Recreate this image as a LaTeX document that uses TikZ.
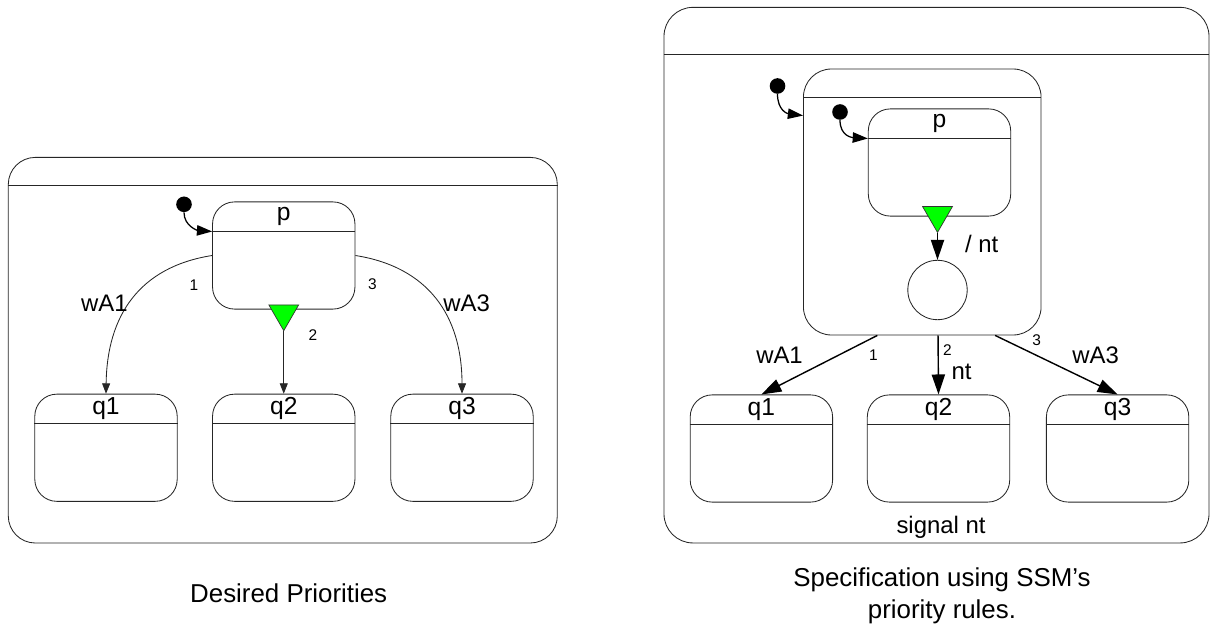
\documentclass[tikz,border=0pt]{standalone}
\usepackage{fontspec}
\setmainfont{Liberation Sans}
\usetikzlibrary{arrows.meta,positioning,calc,shapes.geometric}

\tikzset{
  frame/.style={draw=black!85, line width=0.6pt},
  state/.style={frame, rounded corners=5.5mm, inner sep=0pt,
    minimum width=35.6mm, minimum height=26.8mm},
  initdot/.style={circle, fill=black, inner sep=0pt, minimum size=3.9mm},
  choice/.style={regular polygon, regular polygon sides=3, shape border rotate=180,
    draw=black!80, line width=0.5pt, fill=green, inner sep=0pt, minimum size=8.6mm},
  thinarrow/.style={frame, -{Triangle[length=2.6mm,width=2mm]}},
  boldarrow/.style={draw=black, line width=1pt, -{Triangle[length=5mm,width=3.3mm]}},
  initarrow/.style={draw=black, line width=0.9pt, -{Triangle[length=3.8mm,width=2.6mm]}},
  stname/.style={font=\fontsize{17.5}{19}\selectfont, inner sep=0pt},
  lbl/.style={font=\fontsize{17}{19}\selectfont, inner sep=0pt},
  prio/.style={font=\fontsize{11}{13}\selectfont, inner sep=0pt},
  caption/.style={font=\fontsize{18.4}{22.8}\selectfont, inner sep=0pt, align=center}
}

% header line of a state, depth in px below its top
\newcommand{\headline}[2]{%
  \draw[frame] ($(#1.north west)+(0,#2)$) -- ($(#1.north east)+(0,#2)$);}
\newcommand{\statehead}[3]{%
  \headline{#1}{#2}
  \node[stname] (#1-name) at ($(#1.north)+(0,#2/2)$) {#3};}

\begin{document}
\begin{tikzpicture}[x=0.25mm, y=-0.25mm]
\useasboundingbox (0,0) rectangle (1211,626);

% desired priorities
\node[state, rounded corners=6.75mm, minimum width=137.25mm, minimum height=96.4mm] (lsys) at (282.8,350.2) {};
\headline{lsys}{28.4}
\node[state] (lp) at (283.75,255.5) {};
\statehead{lp}{30}{p}
\node[state] (lq1) at (106,447.75) {};
\statehead{lq1}{30}{q1}
\node[state] (lq2) at (283.75,447.75) {};
\statehead{lq2}{30}{q2}
\node[state] (lq3) at (462,447.75) {};
\statehead{lq3}{30}{q3}
\node[initdot] (ld) at (184,204.3) {};
\draw[initarrow] (ld.south) .. controls +(0,14) and +(-14,-1) .. ($(lp.north west)+(0,30)$);
\node[choice] (ltri) at (283.75,313.5) {};

\draw[thinarrow] (lp.west) .. controls (139,267) and (107,316) .. (lq1.north);
\draw[thinarrow] (ltri.south) -- (lq2.north);
\draw[thinarrow] (lp.east) .. controls (428.5,267) and (462,316) .. (lq3.north);
\node[prio] (l1) at (194,285) {1};
\node[lbl] (lwa1) at (104.3,303.3) {wA1};
\node[prio] (l2) at (313,335) {2};
\node[prio] (l3) at (372.3,284) {3};
\node[lbl] (lwa3) at (466.7,303.3) {wA3};

\node[caption] (lcap) at (288.7,593) {Desired Priorities};

% specification using SSM's rules
\node[state, rounded corners=7.25mm, minimum width=136.25mm, minimum height=133.9mm] (rsys) at (936.5,275.15) {};
\headline{rsys}{48}
\node[state, rounded corners=7mm, minimum width=59.4mm, minimum height=66.5mm] (rsup) at (922.25,202) {};
\headline{rsup}{28.5}
\node[state] (rp) at (939.5,162.5) {};
\statehead{rp}{30}{p}
\node[initdot] (rd1) at (777.5,86) {};
\draw[initarrow] (rd1.south) .. controls +(0,16) and +(-16,-2) .. ($(rsup.north west)+(0,47)$);
\node[initdot] (rd2) at (840,112) {};
\draw[initarrow] (rd2.south) .. controls +(0,16) and +(-16,-1) .. ($(rp.north west)+(0,30)$);
\node[choice] (rtri) at (937.5,215.2) {};
\node[circle, frame, inner sep=0pt, minimum size=14.85mm] (rc) at (937.5,290) {};
\draw[boldarrow] (rtri.south) -- (rc.north);
\node[lbl] (rnt) at (981.7,244) {/ nt};

\node[state] (rq1) at (761.4,448.5) {};
\statehead{rq1}{30}{q1}
\node[state] (rq2) at (938.5,448.5) {};
\statehead{rq2}{30}{q2}
\node[state] (rq3) at (1117.6,448.5) {};
\statehead{rq3}{30}{q3}

\draw[boldarrow] ($(rsup.south west)+(74.3,0)$) -- (rq1.north);
\draw[boldarrow] ($(rsup.south west)+(135,0)$) -- (rq2.north);
\draw[boldarrow] ($(rsup.south west)+(192.1,0)$) -- (rq3.north);
\node[lbl] (rwa1) at (779.5,355) {wA1};
\node[prio] (r1) at (873.3,355) {1};
\node[prio] (r2) at (947.4,350) {2};
\node[lbl] (rnt2) at (961.5,372) {nt};
\node[prio] (r3) at (1036.7,340) {3};
\node[lbl] (rwa3) at (1095.7,355) {wA3};
\node[lbl] (rsig) at (941,527) {signal nt};

\node[caption] (rcap) at (942,596) {Specification using SSM’s\\priority rules.};
\end{tikzpicture}
\end{document}
